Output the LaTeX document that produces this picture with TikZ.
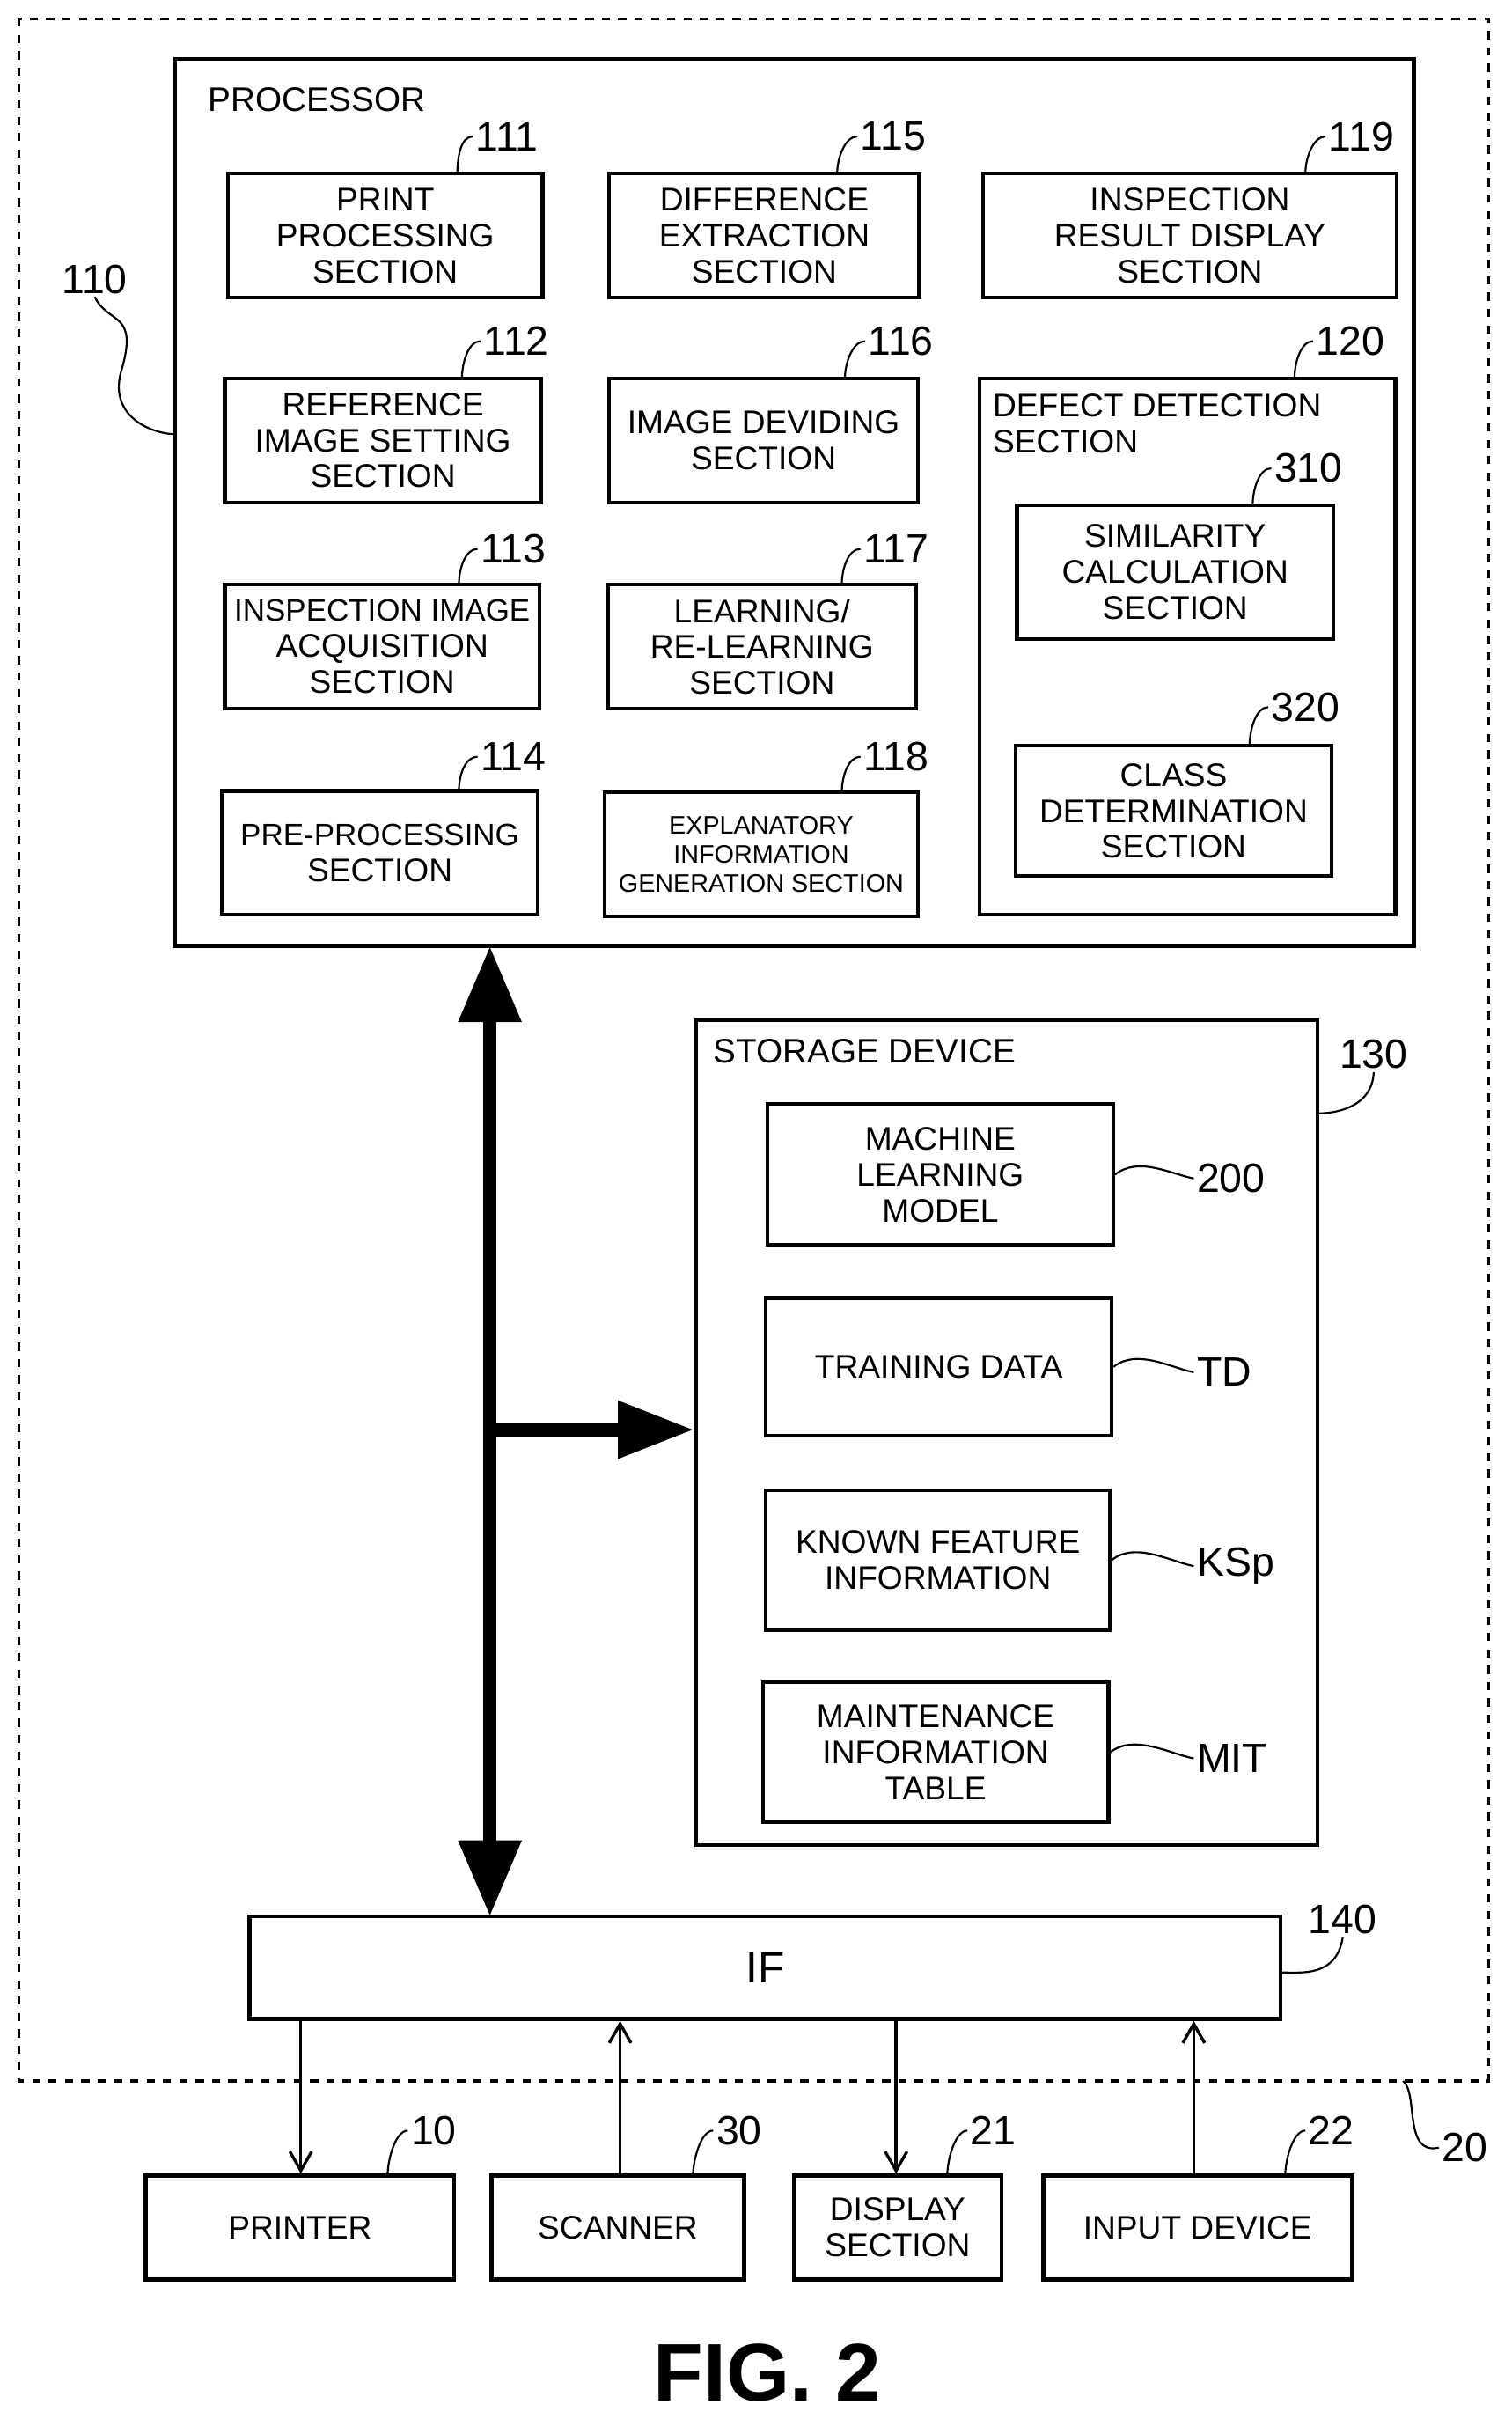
\documentclass[tikz,border=0pt]{standalone}
\usepackage{fontspec}
\setmainfont{Liberation Sans}
\usetikzlibrary{arrows.meta}
\begin{document}
\begin{tikzpicture}[x=0.02cm,y=-0.02cm,
  box/.style={draw,line width=1.4pt,inner sep=0pt,align=center,font=\fontsize{12}{13.2}\selectfont},
  num/.style={font=\fontsize{15}{16}\selectfont,anchor=west,inner sep=1pt},
  lead/.style={line width=0.7pt},
  thin/.style={line width=1.1pt,-{Straight Barb[length=7pt,width=8pt]}}]
\useasboundingbox (0,0) rectangle (975,1560);
\newcommand\bx[6]{\node[box,minimum width={(#4-#2)*0.02cm},minimum height={(#5-#3)*0.02cm}] (#1) at ({(#2+#4)/2},{(#3+#5)/2}) {#6};}
\newcommand\lb[6]{\node[num] (#1) at (#2,#3) {#4}; \draw[lead] (#1.west) .. controls +(-8,0) and +(0,-10) .. (#5,#6);}
\draw[dashed,line width=1pt] (12,12) rectangle (960,1342);
\node[draw,line width=1.4pt,minimum width=799*0.02cm,minimum height=572*0.02cm] (proc) at (512.5,324) {};
\node[anchor=west,font=\fontsize{12.5}{14}\selectfont] (procl) at (128,64) {PROCESSOR};
\bx{b111}{147}{112}{350}{192}{PRINT\\PROCESSING\\SECTION}
\bx{b115}{393}{112}{593}{192}{DIFFERENCE\\EXTRACTION\\SECTION}
\bx{b119}{634}{112}{901}{192}{INSPECTION\\RESULT DISPLAY\\SECTION}
\bx{b112}{145}{244}{349}{324}{REFERENCE\\IMAGE SETTING\\SECTION}
\bx{b116}{393}{244}{592}{324}{IMAGE DEVIDING\\SECTION}
\bx{b120}{632}{244}{900}{590}{}
\node[anchor=north west,align=left,inner sep=0pt,font=\fontsize{12}{13.2}\selectfont] (t120) at (640,254) {DEFECT DETECTION\\SECTION};
\bx{b310}{656}{326}{860}{412}{SIMILARITY\\CALCULATION\\SECTION}
\bx{b320}{655}{481}{859}{565}{CLASS\\DETERMINATION\\SECTION}
\bx{b113}{145}{377}{348}{457}{\fontsize{11.3}{13.2}\selectfont INSPECTION IMAGE\\ACQUISITION\\SECTION}
\bx{b117}{392}{377}{591}{457}{LEARNING/\\RE-LEARNING\\SECTION}
\bx{b114}{143}{510}{347}{590}{\fontsize{11.3}{13.2}\selectfont PRE-PROCESSING\\SECTION}
\node[box,minimum width=202*0.02cm,minimum height=80*0.02cm,font=\fontsize{9.3}{10.8}\selectfont] (b118) at (491,551) {EXPLANATORY\\INFORMATION\\GENERATION SECTION};
\lb{l111}{305}{88}{111}{295}{112}
\lb{l115}{553}{88}{115}{540}{112}
\lb{l119}{855}{88}{119}{842}{112}
\lb{l112}{310}{220}{112}{298}{244}
\lb{l116}{558}{220}{116}{545}{244}
\lb{l120}{847}{220}{120}{835}{244}
\lb{l310}{820}{302}{310}{808}{326}
\lb{l320}{818}{456}{320}{806}{481}
\lb{l113}{308}{354}{113}{296}{377}
\lb{l117}{555}{354}{117}{543}{377}
\lb{l114}{308}{488}{114}{296}{510}
\lb{l118}{555}{488}{118}{543}{511}
\node[num] (l110) at (38,180) {110};
\draw[lead] (l110.south) .. controls (70,210) and (90,200) .. (78,240) .. controls (70,270) and (100,280) .. (113,280);
\node[draw,line width=1.4pt,minimum width=401*0.02cm,minimum height=532*0.02cm] (stor) at (649.5,924) {};
\node[anchor=west,font=\fontsize{12.5}{14}\selectfont] (storl) at (454,678) {STORAGE DEVICE};
\node[num] (l130) at (862,680) {130};
\draw[lead] (l130.south) .. controls (885,715) and (860,718) .. (850,718);
\bx{m200}{495}{712}{718}{803}{MACHINE\\LEARNING\\MODEL}
\bx{mtd}{494}{837}{717}{926}{TRAINING DATA}
\bx{mks}{494}{961}{716}{1051}{KNOWN FEATURE\\INFORMATION}
\bx{mmit}{492}{1085}{715}{1175}{MAINTENANCE\\INFORMATION\\TABLE}
\newcommand\rl[4]{\node[num] (#1) at (770,#3) {#2}; \draw[lead] (#4.east) .. controls +(15,-12) and +(-15,-3) .. (#1.west);}
\rl{l200}{200}{760}{m200}
\rl{ltd}{TD}{885}{mtd}
\rl{lks}{KSp}{1010}{mks}
\rl{lmit}{MIT}{1134}{mmit}
\bx{if}{161}{1236}{826}{1302}{\fontsize{16}{17}\selectfont IF}
\node[num] (l140) at (842,1238) {140};
\draw[lead] (l140.south) .. controls (862,1275) and (840,1272) .. (826,1272);
\coordinate (bj) at (316,922);
\draw[line width=5pt,{Triangle[length=28pt,width=22pt]}-{Triangle[length=28pt,width=22pt]}] (316,610) -- (316,1236);
\draw[line width=5pt,-{Triangle[length=28pt,width=20pt]}] (bj) -- (stor.west |- bj);
\bx{pr}{94}{1403}{293}{1470}{PRINTER}
\bx{sc}{317}{1403}{480}{1470}{SCANNER}
\bx{ds}{512}{1403}{646}{1470}{DISPLAY\\SECTION}
\bx{in}{673}{1403}{872}{1470}{INPUT DEVICE}
\draw[thin] (194,1302) -- (pr.north -| 194,0);
\draw[thin] (sc.north -| 400,0) -- (if.south -| 400,0);
\draw[thin] (578,1302) -- (ds.north -| 578,0);
\draw[thin] (in.north -| 770,0) -- (if.south -| 770,0);
\lb{l10}{263}{1374}{10}{250}{1403}
\lb{l30}{460}{1374}{30}{447}{1403}
\lb{l21}{624}{1374}{21}{611}{1403}
\lb{l22}{842}{1374}{22}{829}{1403}
\node[num] (l20) at (928,1385) {20};
\draw[lead] (l20.west) .. controls (905,1390) and (915,1350) .. (905,1342);
\node[font=\fontsize{30}{32}\selectfont\bfseries] (fig) at (495,1530) {FIG. 2};
\end{tikzpicture}
\end{document}
